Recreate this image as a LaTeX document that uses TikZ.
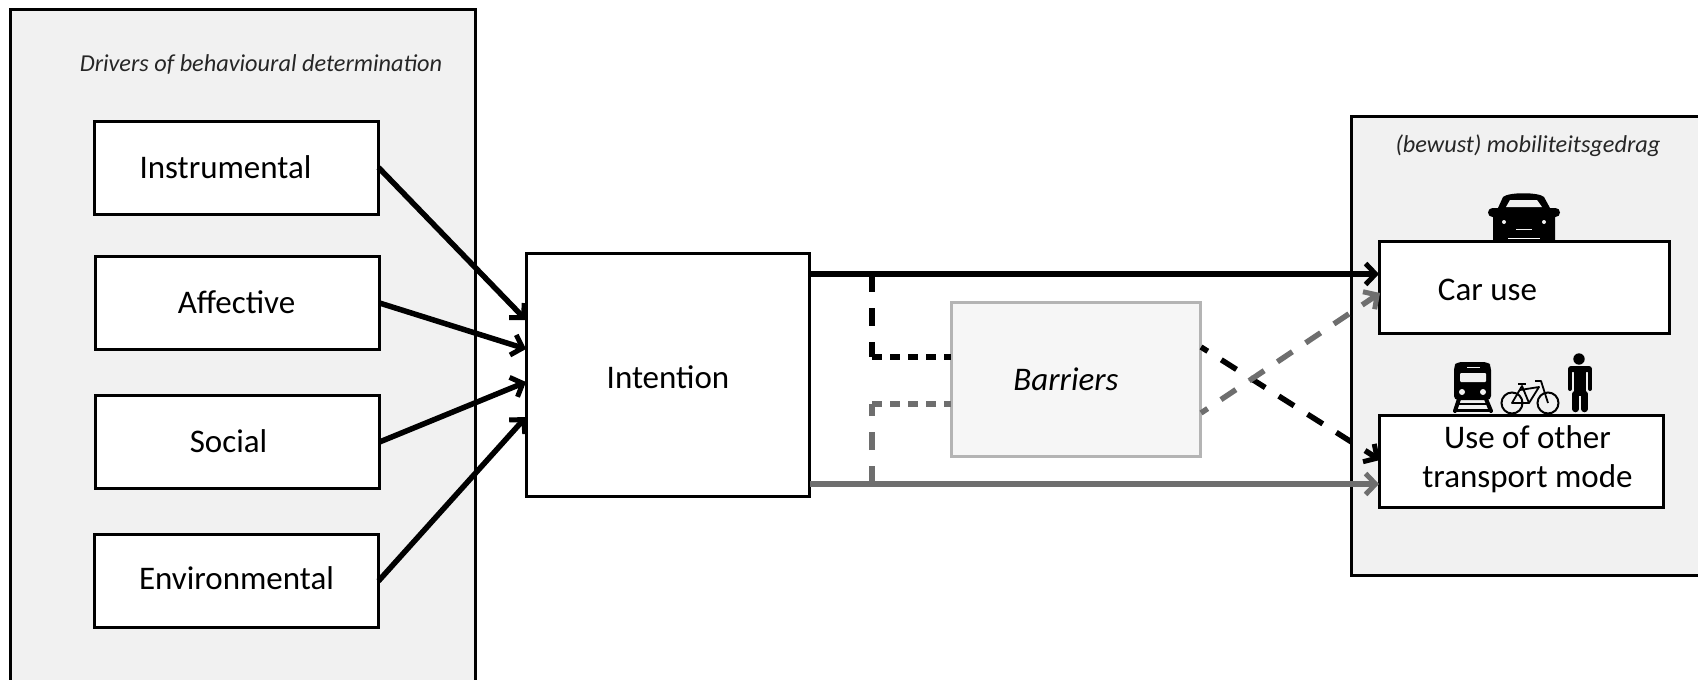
\documentclass[tikz,border=0pt]{standalone}
\usepackage{fontspec}
\setmainfont{Carlito}
\usetikzlibrary{arrows.meta}
\definecolor{panelGray}{HTML}{F1F1F1}
\definecolor{barrierGray}{HTML}{F6F6F6}
\definecolor{barrierEdge}{HTML}{B4B4B4}
\definecolor{lineGray}{HTML}{6E6E6E}
\begin{document}
\begin{tikzpicture}
[x=1pt,y=-1pt,
  panelDecorate/.style={shape=rectangle,draw,line width=3pt,fill=panelGray,inner sep=0pt,outer sep=0pt},%
  boxDecorate/.style={shape=rectangle,draw,line width=3pt,fill=white,inner sep=0pt,outer sep=0pt,
    minimum width=284pt,minimum height=93pt,font=\fontsize{33}{39}\selectfont},%
  barrierDecorate/.style={boxDecorate,draw=barrierEdge,line width=3pt,fill=barrierGray,
    minimum width=249pt,minimum height=154pt},%
  noteText/.style={font=\fontsize{24.3}{30}\selectfont\itshape,text=black!85,inner sep=0pt},%
  solidArrow/.style={-{Straight Barb[length=10pt,width=21pt,line width=5pt]},line width=5.5pt},%
  grayArrow/.style={solidArrow,color=lineGray},%
  longDash/.style={line width=5.5pt,dash pattern=on 18pt off 16pt},%
  shortDash/.style={line width=5.5pt,dash pattern=on 10pt off 8pt},%
  iconFill/.style={fill=black,draw=none}]
\useasboundingbox (0,0) rectangle (1698,680);
%% panels
\node (driversPanel) at (243,350) [panelDecorate,minimum width=465pt,minimum height=682pt] {};
\node (modesPanel) at (1536,346) [panelDecorate,minimum width=370pt,minimum height=459pt] {};
\node (driversNote) at (261,64) [noteText] {Drivers of behavioural determination};
\node (modesNote) at (1528,146) [noteText] {(bewust) mobiliteitsgedrag};
%% car icon
\fill[iconFill,rounded corners=4.5pt] (1488,208) rectangle (1560,217);
\fill[iconFill] (1493,242) -- (1493,212) -- (1498,208) -- (1503,197)
  .. controls (1508,192) and (1539,192) .. (1544,197)
  -- (1550,208) -- (1555,212) -- (1555,242) -- cycle;
\fill[panelGray] (1506,207) -- (1510,200) -- (1537,200) -- (1542,207) -- cycle;
\fill[panelGray] (1504,222) circle[radius=2] (1544,222) circle[radius=2];
\draw[panelGray,line width=.8pt] (1516,229) -- (1532,229);
\draw[white,line width=1pt] (1508,238) -- (1540,238);
%% train icon
\fill[iconFill,rounded corners=4pt]
  (1454,400) -- (1454,366) -- (1457,362) -- (1488,362) -- (1491,366) -- (1491,400) -- cycle;
\fill[panelGray,rounded corners=1pt] (1460,373) rectangle (1486,382);
\fill[panelGray] (1467,366.5) rectangle (1480,368);
\fill[panelGray] (1462,392) circle[radius=3] (1483,392) circle[radius=3];
\draw[line width=4pt,line cap=round] (1459,399) -- (1455,411) (1486,399) -- (1491,411);
\draw[line width=2.5pt] (1458,404) -- (1487,404) (1455,410.5) -- (1491,410.5);
%% bicycle icon
\draw[line width=2pt] (1512,403) circle[radius=10.5] (1548,403) circle[radius=10.5];
\draw[line width=1.8pt,line join=round]
  (1512,403) -- (1522,386) -- (1529,403) -- cycle
  (1520,390) -- (1539,387) -- (1529,403)
  (1535,381) -- (1541,381) -- (1548,403);
\draw[line width=2.5pt] (1518,384) -- (1526,384);
%% person icon
\fill[iconFill] (1579,359) circle[radius=5.7];
\fill[iconFill,rounded corners=3pt] (1568,372) -- (1568,366) -- (1592,366) -- (1592,372) -- cycle;
\fill[iconFill] (1574,368) rectangle (1586,396);
\draw[line width=4pt,line cap=round] (1570,370) -- (1570,389) (1590,370) -- (1590,389);
\draw[line width=6.5pt,line cap=round] (1575.5,394) -- (1575.5,409) (1584.5,394) -- (1584.5,409);
%% nodes or boxes
\foreach \nodename/\x/\y/\shift/\drop/\nodetext in {instrumental/236.5/167.5/-11/0/Instrumental,
  affective/237.5/303/-1/1/Affective, social/237.5/442/-9/1/Social, environmental/236.5/581/0/3/Environmental}
{
  \node (\nodename) at (\x,\y) [boxDecorate,label={[xshift=\shift pt,yshift=\drop pt,font=\fontsize{33}{39}\selectfont]center:\nodetext}] {};
}
\node (intention) at (668,375) [boxDecorate,minimum width=283pt,minimum height=243pt,
  label={[yshift=-2pt,font=\fontsize{33}{39}\selectfont]center:Intention}] {};
\node (barriers) at (1076,379.5) [barrierDecorate,label={[xshift=-10pt,font=\fontsize{33}{39}\selectfont\itshape]center:Barriers}] {};
\node (carUse) at (1524.5,287.5) [boxDecorate,minimum width=290pt,minimum height=92pt,
  label={[xshift=-37pt,yshift=-2pt,font=\fontsize{33}{39}\selectfont]center:Car use}] {};
\node (otherMode) at (1521.5,461.5) [boxDecorate,minimum width=284pt,minimum height=92pt,
  label={[xshift=6pt,yshift=2pt,align=center,font=\fontsize{33}{39}\selectfont]center:Use of other\\transport mode}] {};
%% free ends on the box sides
\foreach \pointname/\x/\y in {inA/526/320, inB/526/349, inC/526/382, inD/526/417,
  outTop/810/274, outLow/810/484, branchTop/872/274, branchLow/872/484,
  cornerTop/872/357, cornerLow/872/404, barrierTop/951/357, barrierLow/951/404,
  barrierOutA/1201/347, barrierOutB/1201/413,
  carTop/1379/274, carLow/1380/293, otherTop/1380/460, otherLow/1379/484}
{
  \coordinate (\pointname) at (\x,\y);
}
%% driver arrows
\foreach \startnode/\endnode in {instrumental/inA, affective/inB, social/inC, environmental/inD}
{
  \draw[solidArrow] (\startnode.east) -- (\endnode);
}
%% solid lines
\draw[solidArrow] (outTop) -- (carTop);
\draw[grayArrow] (outLow) -- (otherLow);
%% dashed lines
\draw[longDash] (branchTop) -- (cornerTop);
\draw[shortDash] (cornerTop) -- (barrierTop);
\draw[longDash,color=lineGray] (branchLow) -- (cornerLow);
\draw[shortDash,color=lineGray] (cornerLow) -- (barrierLow);
\draw[solidArrow,dash pattern=on 18pt off 16pt,dash phase=10pt] (barrierOutA) -- (otherTop);
\draw[grayArrow,dash pattern=on 18pt off 16pt,dash phase=10pt] (barrierOutB) -- (carLow);
\end{tikzpicture}
\end{document}
